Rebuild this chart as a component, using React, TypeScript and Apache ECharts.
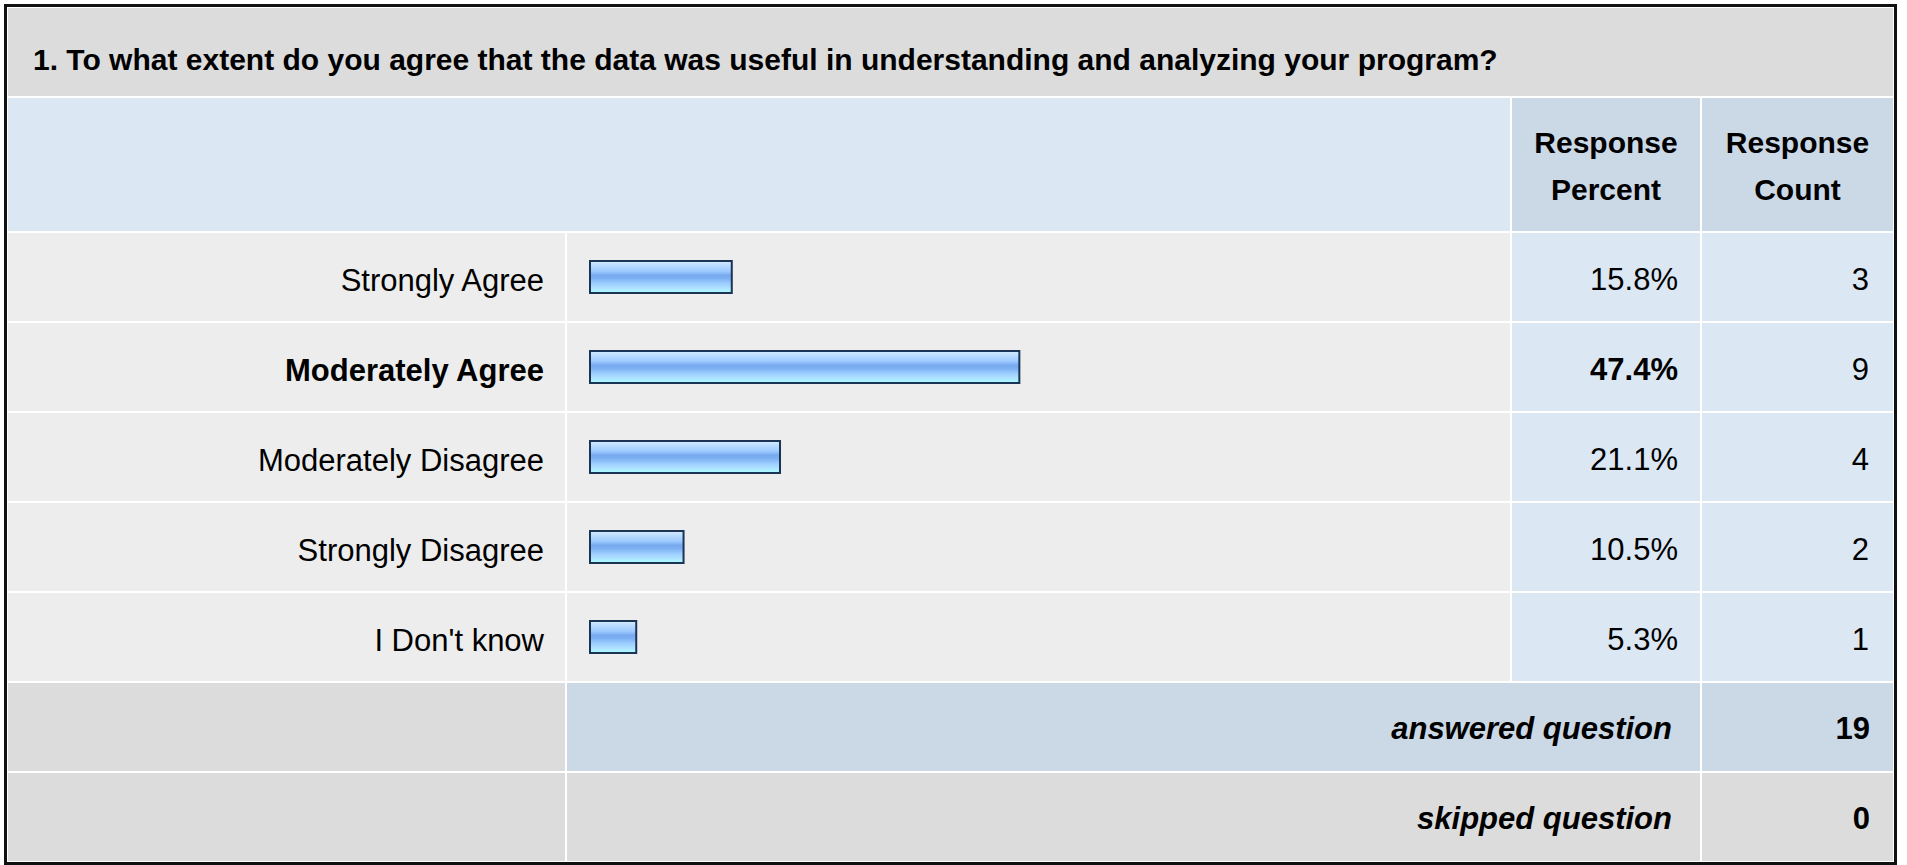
import React, { useEffect, useRef } from "react";
import * as echarts from "echarts";

const TITLE =
  "1. To what extent do you agree that the data was useful in understanding and analyzing your program?";
const CATEGORIES = [
  "Strongly Agree",
  "Moderately Agree",
  "Moderately Disagree",
  "Strongly Disagree",
  "I Don't know",
];
const PERCENTS = [15.8, 47.4, 21.1, 10.5, 5.3];
const COUNTS = [3, 9, 4, 2, 1];
const HIGHLIGHT_INDEX = 1;
const HEADER_PERCENT = ["Response", "Percent"];
const HEADER_COUNT = ["Response", "Count"];
const ANSWERED_LABEL = "answered question";
const SKIPPED_LABEL = "skipped question";
const ANSWERED = 19;
const SKIPPED = 0;

// layout
const FONT = "'Liberation Sans', Arial, Helvetica, sans-serif";
const FS = 31;
const FS_HEAD = 30;
const COL_A = [8, 565];
const COL_B = [567, 1510];
const COL_C = [1512, 1700];
const COL_D = [1702, 1893];
const ROW_TITLE = [8, 96];
const ROW_HEAD = [98, 231];
const ROW0 = 233;
const ROW_H = 88;
const ROW_STEP = 90;
const GRID_LEFT = 589;
const GRID_W = 910;

const C_GRAY = "#dcdcdc";
const C_ROW = "#ededed";
const C_LBLUE = "#dce7f4";
const C_DBLUE = "#cbd8e6";

function rect(x0: number, x1: number, y0: number, y1: number, fill: string) {
  return {
    type: "rect",
    silent: true,
    shape: { x: x0, y: y0, width: x1 - x0, height: y1 - y0 },
    style: { fill },
  };
}

function txt(
  text: string,
  x: number,
  y: number,
  align: string,
  weight = "normal",
  fontStyle = "normal",
  size = FS
) {
  return {
    type: "text",
    silent: true,
    x,
    y,
    style: {
      text,
      fill: "#000",
      font: `${fontStyle} ${weight} ${size}px ${FONT}`,
      align,
      verticalAlign: "middle",
    },
  };
}

export default function App() {
  const ref = useRef<HTMLDivElement>(null);

  useEffect(() => {
    if (!ref.current) return;
    const chart = echarts.init(ref.current, undefined, { renderer: "svg" });

    const graphics: any[] = [];
    // outer frame
    graphics.push(rect(4, 1897, 4, 866, "#111111"));
    graphics.push(rect(7, 1894, 7, 862, "#ffffff"));
    // title row
    graphics.push(rect(COL_A[0], COL_D[1], ROW_TITLE[0], ROW_TITLE[1], C_GRAY));
    // header row
    graphics.push(rect(COL_A[0], COL_B[1], ROW_HEAD[0], ROW_HEAD[1], C_LBLUE));
    graphics.push(rect(COL_C[0], COL_C[1], ROW_HEAD[0], ROW_HEAD[1], C_DBLUE));
    graphics.push(rect(COL_D[0], COL_D[1], ROW_HEAD[0], ROW_HEAD[1], C_DBLUE));
    // data rows
    CATEGORIES.forEach((_, i) => {
      const y0 = ROW0 + i * ROW_STEP;
      const y1 = y0 + ROW_H;
      graphics.push(rect(COL_A[0], COL_A[1], y0, y1, C_ROW));
      graphics.push(rect(COL_B[0], COL_B[1], y0, y1, C_ROW));
      graphics.push(rect(COL_C[0], COL_C[1], y0, y1, C_LBLUE));
      graphics.push(rect(COL_D[0], COL_D[1], y0, y1, C_LBLUE));
    });
    const n = CATEGORIES.length;
    const yAns = ROW0 + n * ROW_STEP;
    const ySkip = yAns + ROW_STEP;
    graphics.push(rect(COL_A[0], COL_A[1], yAns, yAns + ROW_H, C_GRAY));
    graphics.push(rect(COL_B[0], COL_C[1], yAns, yAns + ROW_H, C_DBLUE));
    graphics.push(rect(COL_D[0], COL_D[1], yAns, yAns + ROW_H, C_DBLUE));
    graphics.push(rect(COL_A[0], COL_A[1], ySkip, ySkip + ROW_H, C_GRAY));
    graphics.push(rect(COL_B[0], COL_C[1], ySkip, ySkip + ROW_H, C_GRAY));
    graphics.push(rect(COL_D[0], COL_D[1], ySkip, ySkip + ROW_H, C_GRAY));

    // texts
    graphics.push(txt(TITLE, 33, 59, "left", "bold", "normal", FS_HEAD));
    const cxC = (COL_C[0] + COL_C[1]) / 2;
    const cxD = (COL_D[0] + COL_D[1]) / 2;
    graphics.push(txt(HEADER_PERCENT[0], cxC, 142, "center", "bold", "normal", FS_HEAD));
    graphics.push(txt(HEADER_PERCENT[1], cxC, 189, "center", "bold", "normal", FS_HEAD));
    graphics.push(txt(HEADER_COUNT[0], cxD, 142, "center", "bold", "normal", FS_HEAD));
    graphics.push(txt(HEADER_COUNT[1], cxD, 189, "center", "bold", "normal", FS_HEAD));
    PERCENTS.forEach((p, i) => {
      const cy = ROW0 + i * ROW_STEP + ROW_H / 2 + 2;
      graphics.push(
        txt(p.toFixed(1) + "%", 1678, cy, "right", i === HIGHLIGHT_INDEX ? "bold" : "normal")
      );
      graphics.push(txt(String(COUNTS[i]), 1869, cy, "right"));
    });
    graphics.push(txt(ANSWERED_LABEL, 1672, yAns + ROW_H / 2 + 1, "right", "bold", "italic"));
    graphics.push(txt(String(ANSWERED), 1870, yAns + ROW_H / 2 + 1, "right", "bold"));
    graphics.push(txt(SKIPPED_LABEL, 1672, ySkip + ROW_H / 2 + 1, "right", "bold", "italic"));
    graphics.push(txt(String(SKIPPED), 1870, ySkip + ROW_H / 2 + 1, "right", "bold"));

    chart.setOption({
      animation: false,
      graphic: { elements: graphics.map((g) => ({ ...g, z: -10 })) },
      grid: {
        left: GRID_LEFT,
        width: GRID_W,
        top: ROW0 - 1,
        height: n * ROW_STEP,
        containLabel: false,
      },
      xAxis: {
        type: "value",
        min: 0,
        max: 100,
        show: false,
      },
      yAxis: {
        type: "category",
        inverse: true,
        data: CATEGORIES,
        axisLine: { show: false },
        axisTick: { show: false },
        splitLine: { show: false },
        axisLabel: {
          margin: GRID_LEFT - 544,
          fontSize: FS,
          fontFamily: FONT,
          color: "#000",
          padding: [6, 0, 0, 0],
          formatter: (v: string, i: number) => (i === HIGHLIGHT_INDEX ? `{b|${v}}` : v),
          rich: {
            b: { fontSize: FS, fontFamily: FONT, fontWeight: "bold", color: "#000" },
          },
        },
      },
      series: [
        {
          type: "bar",
          data: PERCENTS,
          barWidth: 34,
          z: 5,
          itemStyle: {
            borderColor: "#1b3456",
            borderWidth: 2,
            color: new echarts.graphic.LinearGradient(0, 0, 0, 1, [
              { offset: 0, color: "#d8ecff" },
              { offset: 0.15, color: "#b8dbff" },
              { offset: 0.32, color: "#9dcaff" },
              { offset: 0.45, color: "#76a9ee" },
              { offset: 0.55, color: "#7db1f2" },
              { offset: 0.7, color: "#9ccdff" },
              { offset: 0.85, color: "#aee2ff" },
              { offset: 1, color: "#aaffff" },
            ]),
          },
        },
      ],
    });
    return () => chart.dispose();
  }, []);

  return (
    <div
      ref={ref}
      style={{ position: "fixed", left: 0, top: 0, width: 1907, height: 865, background: "#fff" }}
    />
  );
}
